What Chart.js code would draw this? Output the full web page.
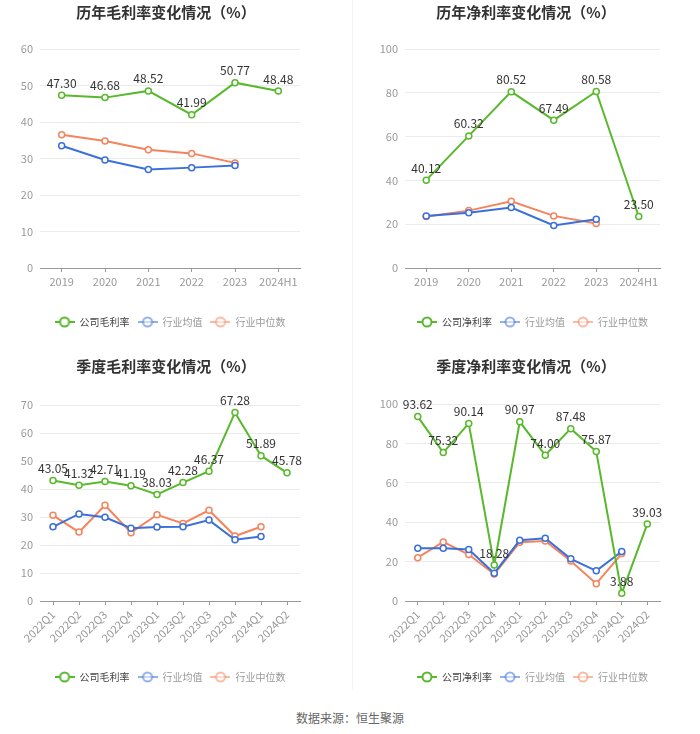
<!DOCTYPE html>
<html>
<head>
<meta charset="utf-8">
<script src="https://cdn.jsdelivr.net/npm/chart.js@4"></script>
<style>
body{margin:0;background:#fff;width:700px;height:734px;position:relative;overflow:hidden;font-family:'Noto Sans CJK SC','Noto Sans',sans-serif;}
.box{position:absolute;width:350px;height:345px;}
.divider{position:absolute;left:352px;top:0;width:1px;height:690px;background:#f4f4f4;}
.source{position:absolute;left:0;top:709px;width:700px;text-align:center;font-size:12px;color:#666;}
</style>
</head>
<body>
<div class="divider"></div>
<div class="box" style="left:0;top:0"><canvas id="c1" width="350" height="345"></canvas></div>
<div class="box" style="left:350px;top:0"><canvas id="c2" width="350" height="345"></canvas></div>
<div class="box" style="left:0;top:350px"><canvas id="c3" width="350" height="345"></canvas></div>
<div class="box" style="left:350px;top:350px"><canvas id="c4" width="350" height="345"></canvas></div>
<div class="source">数据来源：恒生聚源</div>
<script>
// data
const yearLabels = ['2019','2020','2021','2022','2023','2024H1'];
const grossCompany = [47.30, 46.68, 48.52, 41.99, 50.77, 48.48];
const grossAvg = [33.5, 29.6, 27.0, 27.5, 28.1, null];
const grossMedian = [36.5, 34.8, 32.4, 31.4, 28.8, null];
const netCompany = [40.12, 60.32, 80.52, 67.49, 80.58, 23.50];
const netAvg = [23.8, 25.2, 27.6, 19.4, 22.3, null];
const netMedian = [23.5, 26.2, 30.5, 23.8, 20.3, null];

const quarterLabels = ['2022Q1','2022Q2','2022Q3','2022Q4','2023Q1','2023Q2','2023Q3','2023Q4','2024Q1','2024Q2'];
const qGrossCompany = [43.05, 41.32, 42.71, 41.19, 38.03, 42.28, 46.37, 67.28, 51.89, 45.78];
const qGrossAvg = [26.5, 31.1, 29.9, 26.0, 26.4, 26.5, 28.9, 21.9, 23.0, null];
const qGrossMedian = [30.6, 24.6, 34.2, 24.4, 30.8, 27.7, 32.4, 23.2, 26.5, null];
const qNetCompany = [93.62, 75.32, 90.14, 18.28, 90.97, 74.00, 87.48, 75.87, 3.88, 39.03];
const qNetAvg = [26.8, 26.8, 26.1, 14.1, 30.8, 31.9, 21.4, 15.3, 25.1, null];
const qNetMedian = [22.0, 30.0, 23.6, 13.7, 29.8, 30.5, 20.3, 8.8, 24.1, null];

const GREEN = '#58b92c';
const BLUE = '#3b6fd9';
const ORANGE = '#f4845d';

Chart.defaults.font.family = "'Noto Sans CJK SC','Noto Sans',sans-serif";
Chart.defaults.animation = false;

function makeIcon(color, alpha) {
  const c = document.createElement('canvas');
  c.width = 20; c.height = 12;
  const g = c.getContext('2d');
  g.globalAlpha = alpha;
  g.strokeStyle = color;
  g.lineWidth = 2;
  g.beginPath(); g.moveTo(0, 6); g.lineTo(20, 6); g.stroke();
  g.beginPath(); g.arc(10, 6, 4.5, 0, Math.PI * 2);
  g.fillStyle = '#fff'; g.fill(); g.stroke();
  return c;
}

// value labels above the company line
const valueLabels = {
  id: 'valueLabels',
  afterDatasetsDraw(chart) {
    const ctx = chart.ctx;
    const ds = chart.data.datasets[0];
    const meta = chart.getDatasetMeta(0);
    ctx.save();
    ctx.font = "12px 'Noto Sans CJK SC','Noto Sans',sans-serif";
    ctx.fillStyle = '#333';
    ctx.textAlign = 'center';
    ctx.textBaseline = 'middle';
    meta.data.forEach((pt, i) => {
      if (ds.data[i] == null) return;
      ctx.fillText(ds.data[i].toFixed(2), pt.x, pt.y - 12);
    });
    ctx.restore();
  }
};

// move legend under the plot area and the title to its own centre
const placeBoxes = {
  id: 'placeBoxes',
  afterLayout(chart, args, opts) {
    const lg = chart.legend;
    const mid = (chart.chartArea.left + chart.chartArea.right) / 2;
    let d = mid - (lg.left + lg.right) / 2;
    lg.left += d; lg.right += d;
    const t = chart.titleBlock;
    d = opts.titleX - (t.left + t.right) / 2;
    t.left += d; t.right += d;
  }
};

function makeChart(id, cfg) {
  const names = [cfg.name, '行业均值', '行业中位数'];
  const colors = [GREEN, BLUE, ORANGE];
  const series = [cfg.company, cfg.avg, cfg.median];
  new Chart(document.getElementById(id), {
    type: 'line',
    data: {
      labels: cfg.labels,
      datasets: series.map((d, i) => ({
        label: names[i],
        data: d,
        borderColor: colors[i],
        backgroundColor: '#fff',
        borderWidth: 2,
        pointRadius: 3,
        pointBorderWidth: 1.5,
        pointBackgroundColor: '#fff',
        tension: 0
      }))
    },
    options: {
      responsive: false,
      layout: { padding: { left: 0, right: cfg.right, top: 0, bottom: cfg.bottom } },
      plugins: {
        placeBoxes: { titleX: cfg.titleX },
        title: {
          display: true,
          text: cfg.title,
          color: '#333',
          font: { size: 15, weight: 'bold' },
          padding: { top: cfg.titleTop, bottom: cfg.titleBottom }
        },
        legend: {
          position: 'bottom',
          labels: {
            usePointStyle: true,
            pointStyleWidth: 20,
            padding: 8,
            font: { size: 10 },
            generateLabels(chart) {
              return chart.data.datasets.map((ds, i) => ({
                text: ds.label,
                pointStyle: makeIcon(colors[i], i === 0 ? 1 : 0.55),
                fontColor: i === 0 ? '#444' : '#999',
                strokeStyle: 'transparent',
                fillStyle: 'transparent',
                lineWidth: 0,
                datasetIndex: i
              }));
            }
          }
        },
        tooltip: { enabled: false }
      },
      scales: {
        x: {
          offset: true,
          afterFit(s) { s.height = cfg.xHeight; },
          border: { color: '#999' },
          grid: { offset: false, drawOnChartArea: false, color: '#999', tickLength: 4 },
          ticks: {
            color: '#999', font: { size: 11 }, padding: 3,
            minRotation: cfg.rotate, maxRotation: cfg.rotate, autoSkip: false
          }
        },
        y: {
          min: 0, max: cfg.max,
          afterFit(s) { s.width = cfg.left; },
          border: { display: false },
          grid: { color: '#ebebeb', drawTicks: false },
          ticks: { stepSize: cfg.step, color: '#999', font: { size: 11 }, padding: 7 }
        }
      }
    },
    plugins: [valueLabels, placeBoxes]
  });
}

makeChart('c1', {
  title: '历年毛利率变化情况（%）', name: '公司毛利率', labels: yearLabels,
  company: grossCompany, avg: grossAvg, median: grossMedian,
  max: 60, step: 10, left: 40, right: 50, titleTop: 3, titleBottom: 28, titleX: 166,
  xHeight: 41, bottom: 8, rotate: 0
});
makeChart('c2', {
  title: '历年净利率变化情况（%）', name: '公司净利率', labels: yearLabels,
  company: netCompany, avg: netAvg, median: netMedian,
  max: 100, step: 20, left: 55, right: 40, titleTop: 3, titleBottom: 28, titleX: 176,
  xHeight: 41, bottom: 8, rotate: 0
});
makeChart('c3', {
  title: '季度毛利率变化情况（%）', name: '公司毛利率', labels: quarterLabels,
  company: qGrossCompany, avg: qGrossAvg, median: qGrossMedian,
  max: 70, step: 10, left: 40, right: 50, titleTop: 7, titleBottom: 30, titleX: 166,
  xHeight: 63, bottom: 3, rotate: 45
});
makeChart('c4', {
  title: '季度净利率变化情况（%）', name: '公司净利率', labels: quarterLabels,
  company: qNetCompany, avg: qNetAvg, median: qNetMedian,
  max: 100, step: 20, left: 55, right: 40, titleTop: 7, titleBottom: 29, titleX: 176,
  xHeight: 63, bottom: 3, rotate: 45
});
</script>
</body>
</html>
